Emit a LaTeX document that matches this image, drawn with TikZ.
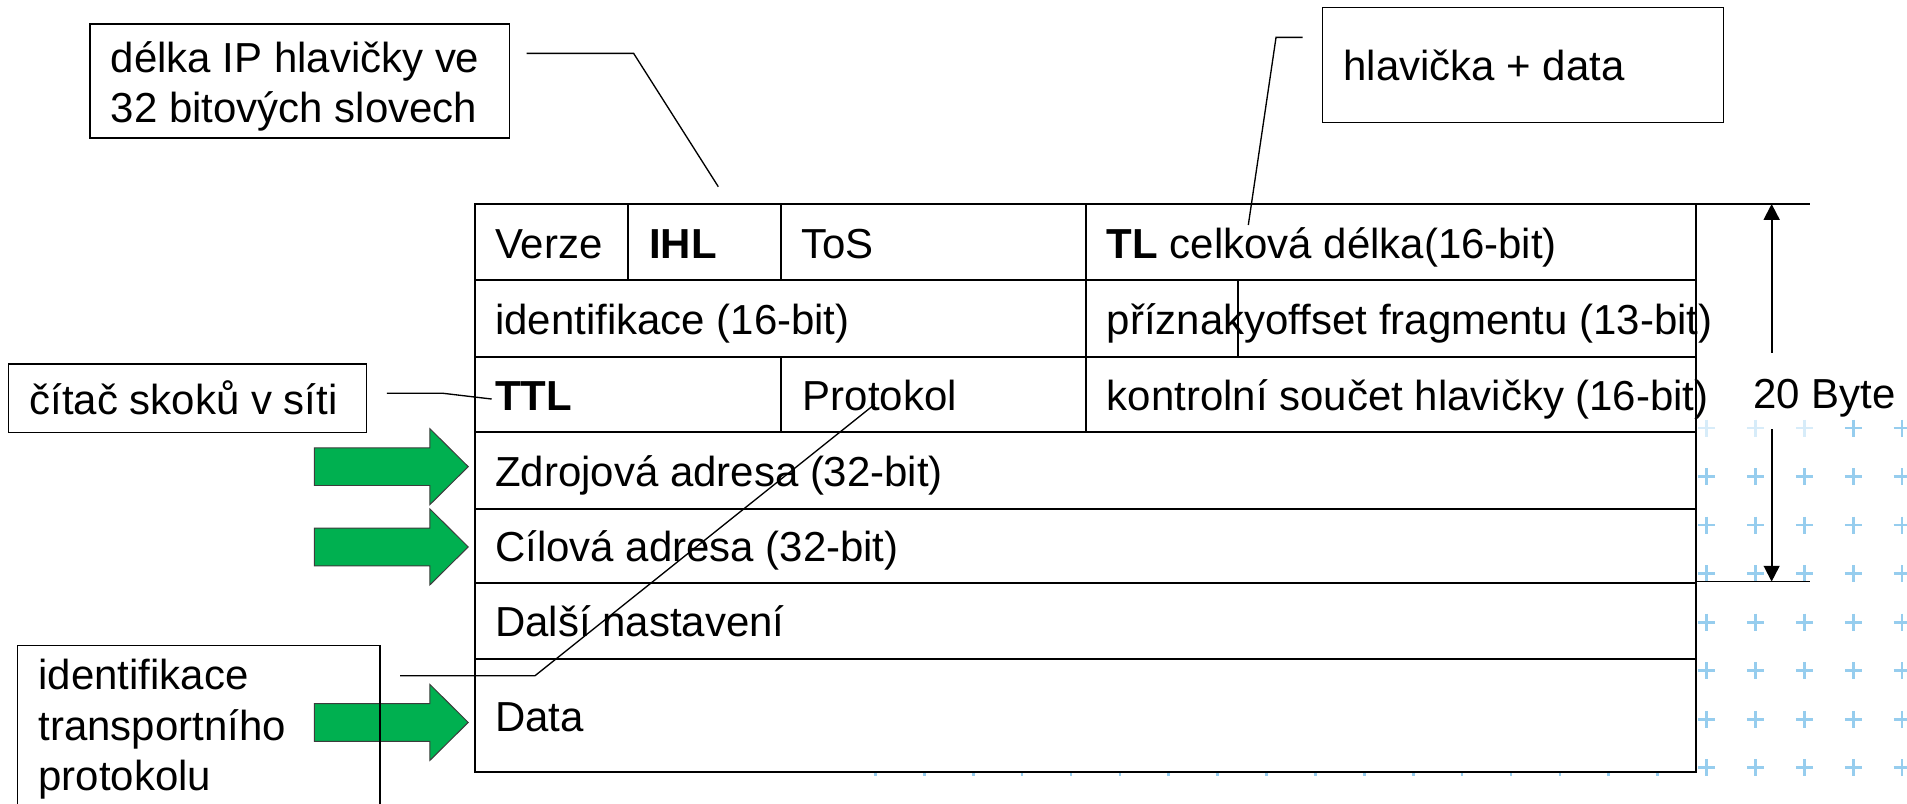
\documentclass[tikz,border=0pt]{standalone}
\usepackage{fontspec}
\setmainfont{Liberation Sans}
\usetikzlibrary{arrows.meta}
\definecolor{pgreen}{RGB}{0,176,80}
\definecolor{plusblue}{RGB}{150,205,238}
\definecolor{plusfaint}{RGB}{215,236,249}
\definecolor{arrowedge}{RGB}{60,60,60}
\begin{document}
\begin{tikzpicture}[x=1pt,y=-1pt,
  txt/.style={anchor=base west, inner sep=0pt, font=\fontsize{34.5}{39.7}\selectfont},
  box/.style={draw, line width=1.3pt, anchor=north west, inner sep=0pt, outer sep=0pt},
  gridline/.style={line width=1.6pt},
  conn/.style={line width=1.1pt},
  dimline/.style={line width=1.6pt},
  blockarrow/.style={fill=pgreen, draw=arrowedge, line width=0.8pt, line join=miter},
  plusmark/.style={line width=2.2pt, draw=plusblue},
  greenarrow/.pic={\draw[blockarrow] (-126.5,-15.5) -- (-31.5,-15.5) -- (-31.5,-31.2) -- (0,0) -- (-31.5,31.2) -- (-31.5,15.5) -- (-126.5,15.5) -- cycle;}
]
\useasboundingbox (0,0) rectangle (1568,661);

% background plus pattern
\foreach \k in {1,...,7} {
  \foreach \j in {0,...,21} {
    \draw[plusmark] ({1564-40.2*\j-7},{352+39.9*\k}) -- ++(14,0)
                    ({1564-40.2*\j},{352+39.9*\k-7}) -- ++(0,14);
  }
}
\foreach \j in {0,...,21} {
  \ifnum\j<2
    \draw[plusmark] ({1564-40.2*\j-7},352) -- ++(14,0) ({1564-40.2*\j},345) -- ++(0,14);
  \else
    \draw[plusmark, draw=plusfaint] ({1564-40.2*\j-7},352) -- ++(14,0) ({1564-40.2*\j},345) -- ++(0,14);
  \fi
}

% table
\node[draw, gridline, fill=white, anchor=north west, inner sep=0pt, outer sep=0pt,
      minimum width=1003.7pt, minimum height=467.1pt] (tbl) at (390.6,167.7) {};
\foreach \y in {230.2,293.3,355.5,418.5,479.4,541.9}
  \draw[gridline] (390.6,\y) -- (1394.3,\y);
\foreach \x in {516.6,641.9,892.7}
  \draw[gridline] (\x,167.7) -- (\x,230.2);
\foreach \x in {892.7,1017.6}
  \draw[gridline] (\x,230.2) -- (\x,293.3);
\foreach \x in {641.9,892.7}
  \draw[gridline] (\x,293.3) -- (\x,355.5);

\node[txt] (verze) at (407,212.5) {Verze};
\node[txt] (ihl) at (533.6,212.5) {\textbf{IHL}};
\node[txt] (tos) at (658.6,212.5) {ToS};
\node[txt] (tl) at (910,212.5) {\textbf{TL} celková délka(16-bit)};
\node[txt] (ident) at (407,275) {identifikace (16-bit)};
\node[txt] (flags) at (910,275) {příznakyoffset fragmentu (13-bit)};
\node[txt] (ttl) at (407,337.5) {\textbf{TTL}};
\node[txt] (proto) at (660,337.5) {Protokol};
\node[txt] (csum) at (910,337.5) {kontrolní součet hlavičky (16-bit)};
\node[txt] (src) at (407,400) {Zdrojová adresa (32-bit)};
\node[txt] (dst) at (407,461.5) {Cílová adresa (32-bit)};
\node[txt] (opt) at (407,523) {Další nastavení};
\node[txt] (data) at (407,601.5) {Data};

% green block arrows
\pic (arrA) at (385,383.7) {greenarrow};
\pic (arrB) at (385,449.7) {greenarrow};
\pic (arrC) at (385,594.0) {greenarrow};

% annotation boxes
\node[box, minimum width=344.8pt, minimum height=94pt] (b1) at (74,19.7) {};
\node[txt] (b1a) at (91,60) {délka IP hlavičky ve};
\node[txt] (b1b) at (91,100.5) {32 bitových slovech};

\node[box, minimum width=329.5pt, minimum height=94.6pt] (b2) at (1087.5,6) {};
\node[txt] (b2a) at (1104.5,65.8) {hlavička + data};

\node[box, minimum width=294.6pt, minimum height=56.2pt] (b3) at (6.9,299.3) {};
\node[txt] (b3a) at (24.1,340.5) {čítač skoků v síti};

\node[box, minimum width=298.1pt, minimum height=170pt] (b4) at (14.3,530.9) {};
\node[txt] (b4a) at (31.5,567) {identifikace};
\node[txt] (b4b) at (31.5,608.5) {transportního};
\node[txt] (b4c) at (31.5,650) {protokolu};

% connectors
\coordinate (c1a) at (433,43.9);
\coordinate (c1b) at (521,43.9);
\coordinate (c1c) at (590.6,153.5);
\draw[conn] (c1a) -- (c1b) -- (c1c);

\coordinate (c2a) at (1071,30.7);
\coordinate (c2b) at (1049.2,30.7);
\coordinate (c2c) at (1026.4,185);
\draw[conn] (c2a) -- (c2b) -- (c2c);

\coordinate (c3a) at (318,323.4);
\coordinate (c3b) at (364.5,323.4);
\coordinate (c3c) at (404.3,328.1);
\draw[conn] (c3a) -- (c3b) -- (c3c);

\coordinate (c4a) at (328.9,555.6);
\coordinate (c4b) at (439.9,555.6);
\coordinate (c4c) at (719.5,332.2);
\draw[conn] (c4a) -- (c4b) -- (c4c);

% 20 Byte dimension
\coordinate (dtop) at (1456.7,167.7);
\coordinate (dbot) at (1456.7,478.2);
\coordinate (gtop) at (1456.7,290);
\coordinate (gbot) at (1456.7,353);
\draw[conn] (1394.3,167.7) -- (1488,167.7);
\draw[conn] (1394.3,478.2) -- (1488,478.2);
\draw[dimline, -{Triangle[width=13pt,length=13pt]}] (gtop) -- (dtop);
\draw[dimline, -{Triangle[width=13pt,length=13pt]}] (gbot) -- (dbot);
\node[txt] (bytes) at (1441.6,336) {20 Byte};
\end{tikzpicture}
\end{document}
